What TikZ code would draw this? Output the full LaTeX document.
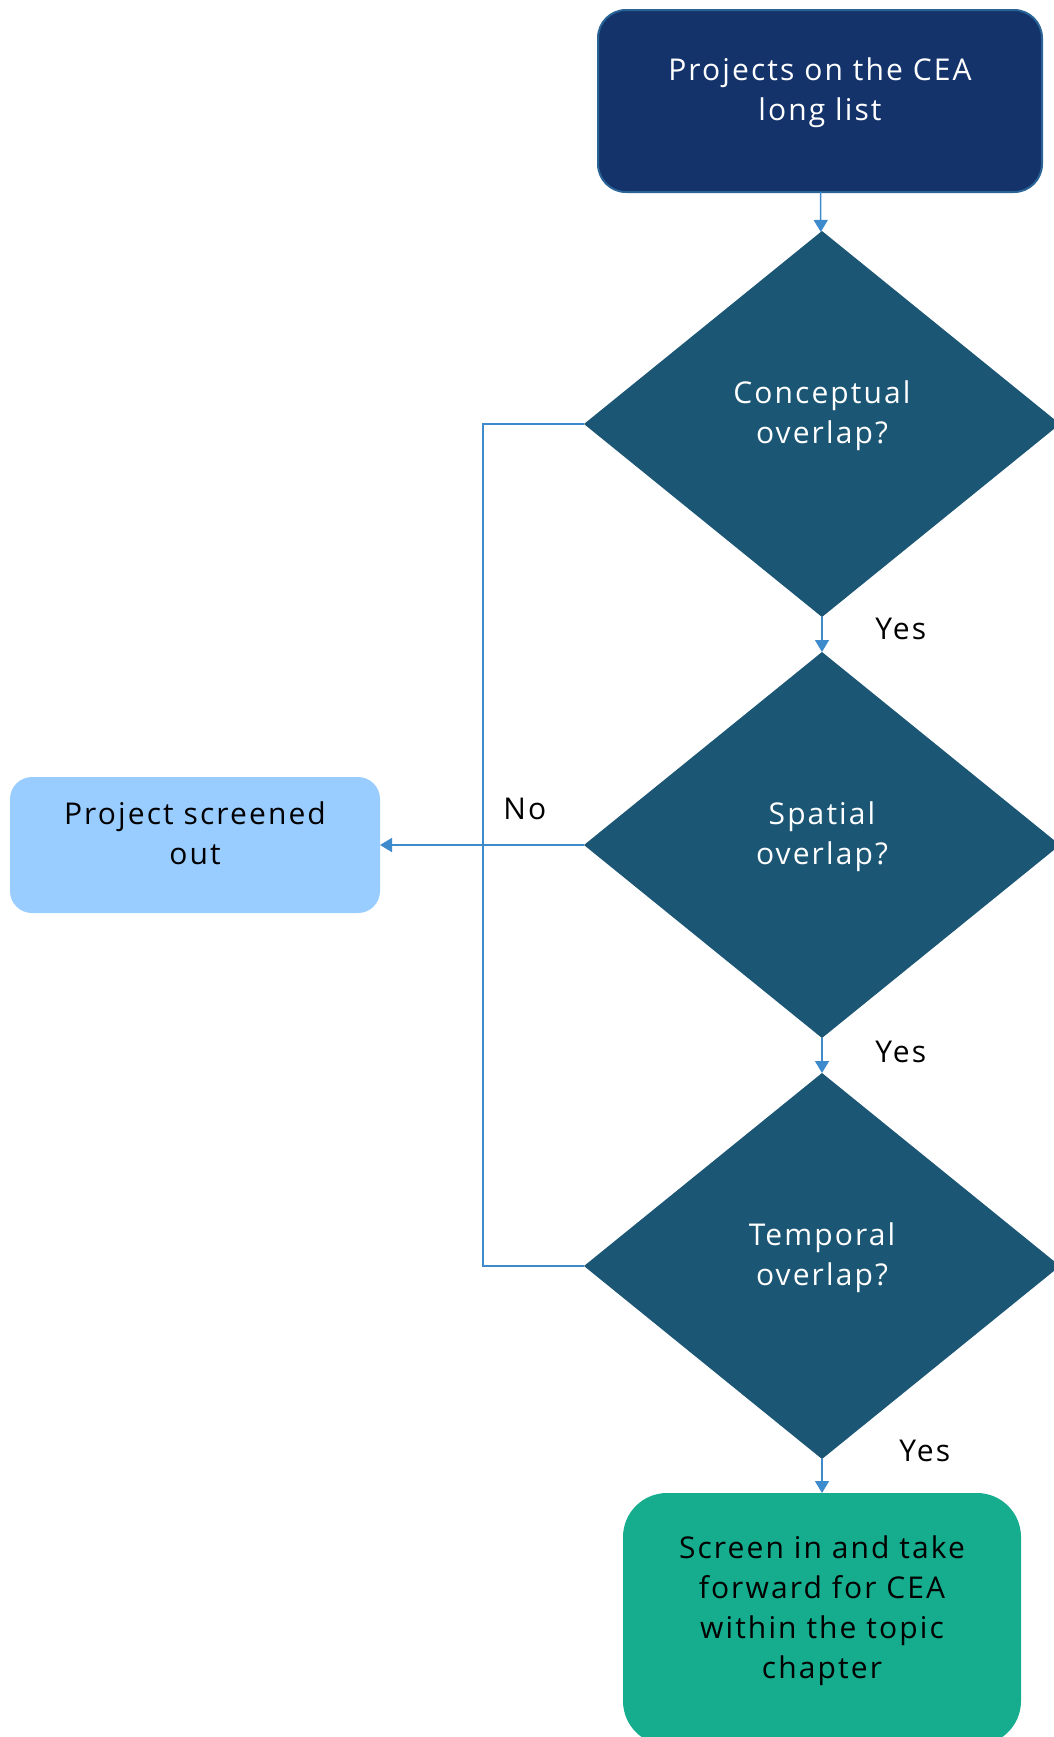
\documentclass[tikz,border=0pt]{standalone}
\usepackage{fontspec}
\setmainfont[LetterSpace=7]{Open Sans}
\usetikzlibrary{shapes.geometric,arrows.meta}
\definecolor{navy}{HTML}{14336B}
\definecolor{navyline}{HTML}{2A6496}
\definecolor{petrol}{HTML}{1B5674}
\definecolor{skyblue}{HTML}{99CCFF}
\definecolor{teal}{HTML}{16AD8E}
\definecolor{flowline}{HTML}{3D8BCD}
\begin{document}
\begin{tikzpicture}[x=0.5pt, y=-0.5pt, >={Triangle[width=7pt,length=6pt]}]
        \useasboundingbox (0,0) rectangle (1054,1737);
        \tikzstyle{txt}=[align=center, font=\fontsize{15}{20}\selectfont, text depth=12pt, inner sep=0pt, outer sep=0pt]
        \tikzstyle{start}=[txt, rectangle, rounded corners=14pt, fill=navy, draw=navyline, line width=1pt, text=white, minimum width=222pt, minimum height=91pt]
        \tikzstyle{decision}=[txt, diamond, fill=petrol, text=white, minimum width=238pt, minimum height=193pt]
        \tikzstyle{reject}=[txt, rectangle, rounded corners=11pt, fill=skyblue, minimum width=185pt, minimum height=68pt]
        \tikzstyle{accept}=[txt, rectangle, rounded corners=22pt, fill=teal, minimum width=199pt, minimum height=126pt]
        \tikzstyle{flow}=[draw=flowline, line width=0.75pt]
        \tikzstyle{answer}=[font=\fontsize{15}{20}\selectfont]

        % Start
        \node at (820, 101) [start] (longlist) {Projects on the CEA\\long list};

        % Checks
        \node at (822, 424) [decision] (conceptual) {Conceptual\\overlap?};
        \node at (822, 845) [decision] (spatial) {Spatial\\overlap?};
        \node at (822, 1266) [decision] (temporal) {Temporal\\overlap?};

        % Outcomes
        \node at (195, 845) [reject] (screenedout) {Project screened\\out};
        \node at (822, 1619) [accept] (screenedin) {Screen in and take\\forward for CEA\\within the topic\\chapter};

        \coordinate (bus) at (483, 845);

        % Yes
        \draw [flow, ->] (longlist) -- (conceptual);
        \draw [flow, ->] (conceptual) -- node[answer, right=23pt, yshift=3pt] {Yes} (spatial);
        \draw [flow, ->] (spatial) -- node[answer, right=23pt, yshift=2pt] {Yes} (temporal);
        \draw [flow, ->] (temporal) -- node[answer, pos=0, right=35pt, yshift=4pt] {Yes} (screenedin);

        % No
        \draw [flow] (conceptual.west) -| (bus) |- (temporal.west);
        \draw [flow, ->] (spatial) -- node[answer, pos=0.29, above=9pt] {No} (screenedout);
    \end{tikzpicture}
\end{document}
